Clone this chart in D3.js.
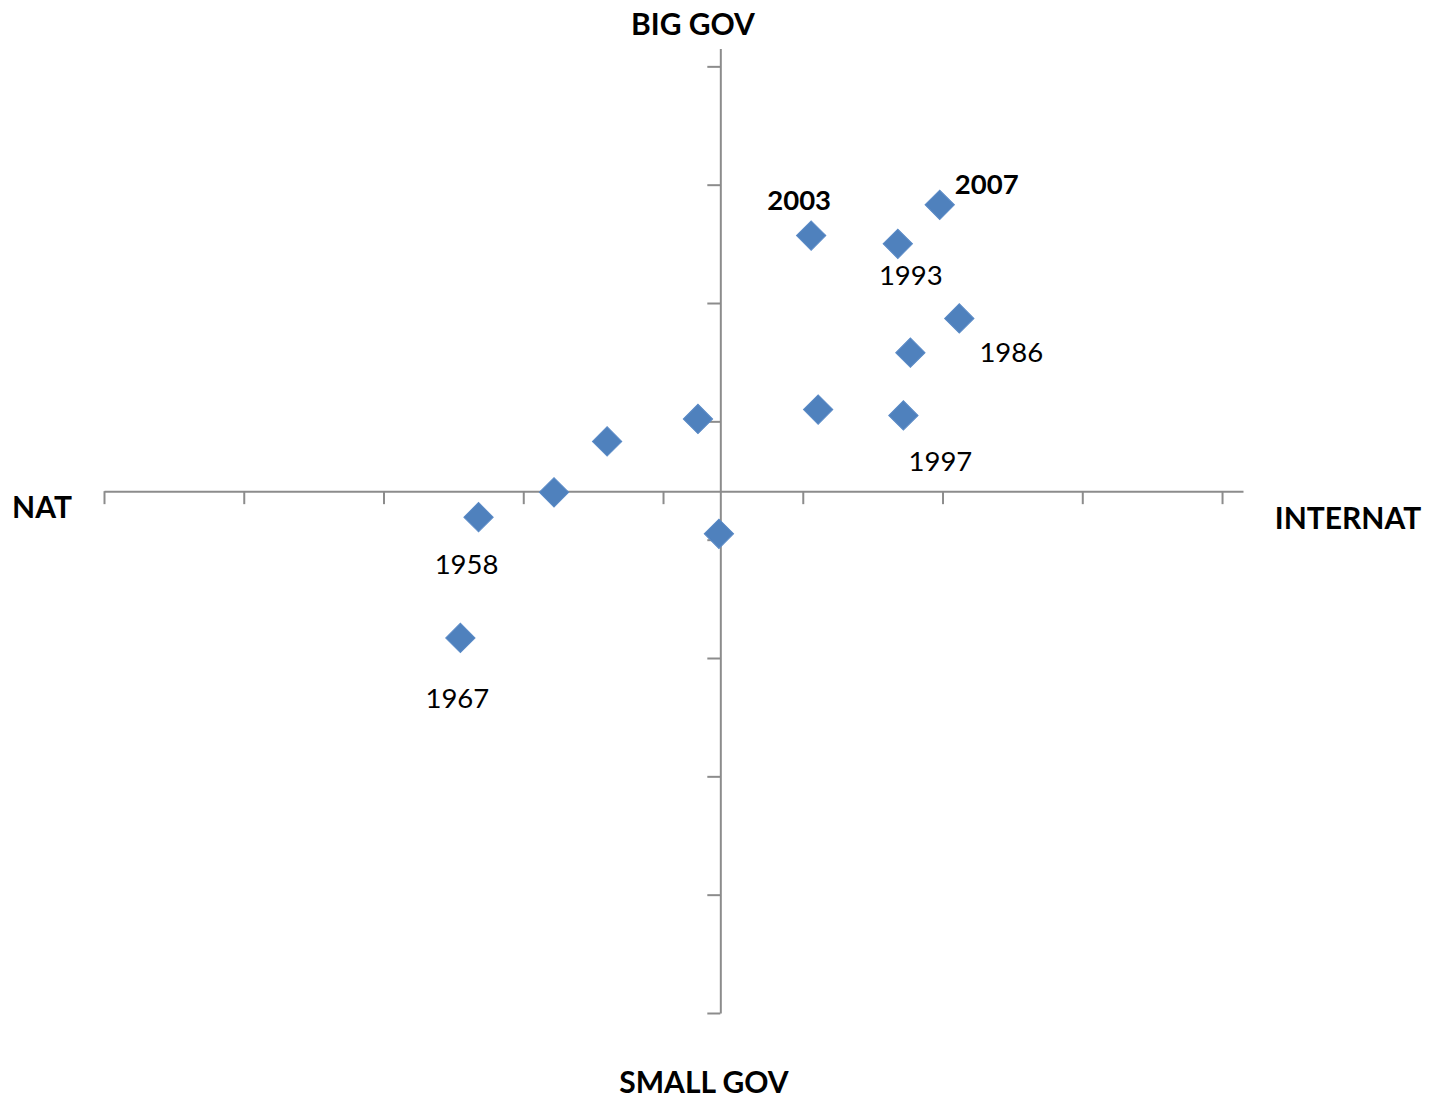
<!DOCTYPE html>
<html>
<head>
<meta charset="utf-8">
<script src="https://cdn.jsdelivr.net/npm/d3@7"></script>
<style>
  html, body { margin: 0; padding: 0; background: #fff; }
  svg { display: block; }
  text { font-family: Lato, "Open Sans", sans-serif; fill: #000; }
</style>
</head>
<body>
<svg id="chart" width="1439" height="1099"></svg>
<script>
// ---- data ----
const pointX = [1.57, 0.65, 1.27, 1.71, 1.36, 0.70, 1.31, -0.16, -0.81, -1.19, -1.73, -0.01, -1.86];
const pointY = [2.42, 2.16, 2.09, 1.46, 1.17, 0.69, 0.64, 0.61, 0.42, -0.01, -0.22, -0.36, -1.24];
const pointLabels = ["2007", "2003", "1993", "1986", "", "", "1997", "", "", "", "1958", "", "1967"];
const boldLabels = ["2007", "2003"];
const tickValues = [-4.41, -3.41, -2.41, -1.41, -0.41, 0.59, 1.59, 2.59, 3.59];
const axisTitles = { top: "BIG GOV", bottom: "SMALL GOV", left: "NAT", right: "INTERNAT" };

// ---- layout / style ----
const svg = d3.select("#chart");
const x = d3.scaleLinear().domain([-4.41, 3.74]).range([104, 1243]);
const y = d3.scaleLinear().domain([-4.41, 3.74]).range([1013, 48.6]);
const axisColor = "#8c8c8c";
const markerColor = "#4f81bd";

const labelOffsets = {
  "2007": [47, -21], "2003": [-12, -36], "1993": [13, 31], "1986": [52, 33],
  "1997": [37, 45], "1958": [-12, 46], "1967": [-3, 60]
};

// x axis (crosses at y = 0)
const gx = svg.append("g")
  .attr("transform", `translate(0,${y(0)})`)
  .call(d3.axisBottom(x).tickValues(tickValues).tickSize(13).tickSizeOuter(0).tickFormat(""));
// y axis (crosses at x = 0)
const gy = svg.append("g")
  .attr("transform", `translate(${x(0)},0)`)
  .call(d3.axisLeft(y).tickValues(tickValues).tickSize(13).tickSizeOuter(0).tickFormat(""));

[gx, gy].forEach(g => {
  g.select(".domain").attr("stroke", axisColor).attr("stroke-width", 2);
  g.selectAll(".tick line").attr("stroke", axisColor).attr("stroke-width", 2);
});

// markers
const pts = pointX.map((v, i) => ({ x: v, y: pointY[i], label: pointLabels[i] }));
const diamond = d3.symbol().type(d3.symbolSquare).size(430);
svg.append("g").selectAll("path")
  .data(pts)
  .join("path")
  .attr("d", diamond)
  .attr("transform", d => `translate(${x(d.x)},${y(d.y)}) rotate(45)`)
  .attr("fill", markerColor)
  .attr("stroke", "#5a8ac6")
  .attr("stroke-width", 1);

// point labels
svg.append("g").selectAll("text")
  .data(pts.filter(d => d.label))
  .join("text")
  .attr("x", d => x(d.x) + labelOffsets[d.label][0])
  .attr("y", d => y(d.y) + labelOffsets[d.label][1])
  .attr("text-anchor", "middle")
  .attr("dominant-baseline", "central")
  .attr("font-size", 27.5)
  .attr("font-weight", d => boldLabels.includes(d.label) ? "bold" : "normal")
  .text(d => d.label);

// axis titles
const titles = [
  { t: axisTitles.top, cx: 693, cy: 23 },
  { t: axisTitles.bottom, cx: 704, cy: 1081 },
  { t: axisTitles.left, cx: 42, cy: 506 },
  { t: axisTitles.right, cx: 1348, cy: 517 }
];
svg.append("g").selectAll("text")
  .data(titles)
  .join("text")
  .attr("x", d => d.cx)
  .attr("y", d => d.cy)
  .attr("text-anchor", "middle")
  .attr("dominant-baseline", "central")
  .attr("font-size", 30)
  .attr("font-weight", "bold")
  .text(d => d.t);
</script>
</body>
</html>
